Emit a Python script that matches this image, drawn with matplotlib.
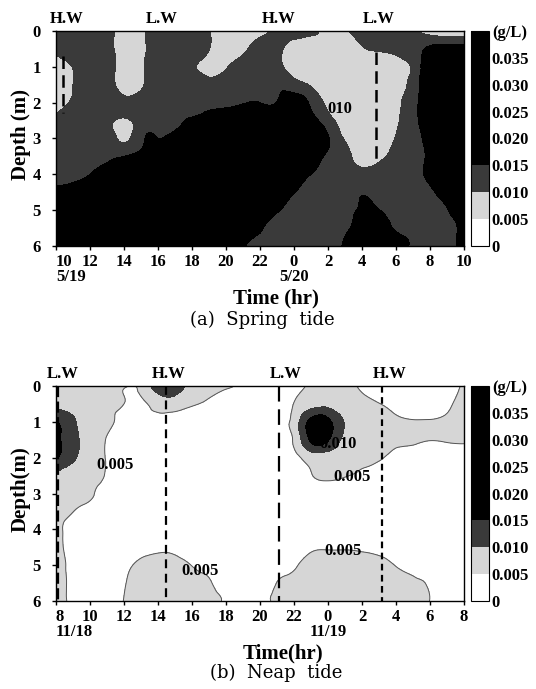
import numpy as np
import matplotlib
matplotlib.use("Agg")
import matplotlib.pyplot as plt
import matplotlib.tri as mtri
from matplotlib.colors import ListedColormap, BoundaryNorm
from matplotlib.transforms import blended_transform_factory

plt.rcParams['font.family'] = ['Liberation Serif', 'DejaVu Serif']
plt.rcParams['font.weight'] = 'bold'

# depth grid (m), shared by both surveys
depths = [0, 0.5, 1.0, 1.5, 2.0, 2.5, 3.0, 3.5, 4.0, 4.5, 5.0, 5.5, 6.0]

# (a) spring tide, hour of day from 10h 5/19 to 10h 5/20 ; SS in g/L x 1000
spring_hours = [10, 11, 12, 13, 14, 15, 16, 17, 18, 19, 20, 21, 22,
                23, 24, 25, 26, 27, 28, 29, 30, 31, 32, 33, 34]
spring_ss = [
    [13, 13, 13, 12, 7, 8, 14, 14, 13, 10.2, 7, 7, 8.5, 11, 12, 12, 8, 9.5, 12, 12, 12, 11, 7.5, 6, 6],
    [11.5, 13, 13, 12, 7, 8, 14, 14, 14, 10.2, 7, 9, 12, 11.5, 8, 7, 7, 7, 9.5, 10.5, 11, 13, 16, 17, 17],
    [7, 10.2, 13, 12.5, 7, 8.5, 14, 14, 11, 8, 9.5, 12, 12, 11.5, 7.5, 7, 7, 7, 7, 7, 8, 11, 19, 21, 21],
    [6.5, 10, 13, 13, 7.5, 9, 14, 14, 14, 12, 13, 14, 14, 14, 12, 9.5, 7, 7, 7, 7, 8.5, 12, 20, 22, 22],
    [7.5, 10.8, 13, 13.5, 11.5, 13, 13.5, 14, 14, 14, 14.3, 14.8, 15, 15.2, 18, 14, 9, 7, 7, 7, 9, 13, 20, 22, 22],
    [11, 12.5, 13, 12, 9, 13, 14, 14.5, 15.2, 16, 17, 18, 19, 19, 19, 17, 12, 8, 7, 7, 9.5, 13, 19, 21, 21],
    [13, 13, 13, 13, 9, 14, 15, 16, 17, 18, 19, 20, 20, 20, 20, 20, 15.5, 9.5, 7, 8, 10.2, 13, 17, 20, 20],
    [13, 13, 13.5, 14, 15, 16, 17, 18, 19, 20, 20, 21, 21, 21, 20, 18, 14, 11.5, 8, 9, 11, 13, 16, 19, 20],
    [13.8, 14.2, 15, 16, 17, 18, 19, 20, 20, 21, 21, 21, 21, 20, 18, 15, 13, 12, 11, 12, 13, 14, 16, 19, 20],
    [15.8, 16.2, 17, 18, 19, 20, 20, 21, 21, 21, 21, 21, 20, 18, 15.2, 13, 13, 13, 14.5, 13, 13, 13, 14.2, 17, 19],
    [17.8, 18, 19, 20, 20, 21, 21, 21, 21, 21, 20, 19, 17, 15.5, 13, 13, 13, 13, 16, 15.2, 13, 13, 13, 14.8, 17],
    [19.8, 20, 20, 21, 21, 21, 21, 21, 21, 20, 19, 17, 15.5, 13, 13, 13, 13.5, 14, 17.5, 17, 14.5, 13, 13, 13.5, 16.5],
    [21, 21, 21, 21, 21, 21, 21, 21, 20, 19, 18, 15.5, 13, 13, 13, 13, 11, 16, 18, 18, 20, 13.5, 13, 13.5, 16.5],
]
spring_ticks = [10, 12, 14, 16, 18, 20, 22, 24, 26, 28, 30, 32, 34]
spring_ticklabels = ['10', '12', '14', '16', '18', '20', '22',
                     '0', '2', '4', '6', '8', '10']
spring_dates = ['5/19', '5/20']
spring_date_t = [10, 24]
spring_tide_t = [10.6, 16.2, 23.1, 29.0]
spring_tide = ['H.W', 'L.W', 'H.W', 'L.W']
spring_line_t = [10.4, 28.8]
spring_line_top = [0.7, 0.6]
spring_line_bot = [2.3, 3.6]
spring_clabels = ['010']
spring_clabel_t = [26.7]
spring_clabel_d = [2.17]

# (b) neap tide, 8h 11/18 to 8h 11/19
neap_hours = [8, 9, 10, 11, 12, 13, 14, 15, 16, 17, 18, 19, 20,
              21, 22, 23, 24, 25, 26, 27, 28, 29, 30, 31, 32]
neap_ss = [
    [7, 7, 6.5, 6, 5.3, 6, 13, 13, 8, 6.5, 5.6, 4.5, 4.3, 3.5, 4, 5.5, 6.5, 6, 4.5, 3, 2.5, 2.5, 2.5, 3.5, 5.5],
    [8, 7, 6.5, 6, 5, 4, 7.5, 7.5, 5.5, 4.2, 3, 3, 3, 3, 5.1, 8, 8.5, 7, 6, 5.1, 4.1, 3.5, 3.5, 4.5, 6],
    [15.5, 11, 6.5, 5.9, 3, 3, 3, 3, 3, 3, 3, 3, 3, 3, 7, 17, 16.5, 9.5, 6.5, 6, 5.5, 5.2, 5.2, 5.4, 6],
    [15.5, 12, 7, 4.8, 3, 3, 3, 3, 3, 3, 3, 3, 3, 3, 5.7, 16, 15.5, 8.5, 6.5, 6.2, 5.8, 5.5, 5.1, 5.3, 5.5],
    [15.5, 11, 7, 4.8, 3, 3, 3, 3, 3, 3, 3, 3, 3, 3, 3.7, 7, 7.5, 6.5, 6, 5.5, 3.8, 3.5, 3, 3, 3],
    [9, 7, 7, 4.5, 3, 3, 3, 3, 3, 3, 3, 3, 3, 3, 3, 4.8, 5.8, 5.2, 4.3, 3, 3, 3, 3, 3, 3],
    [7, 7, 5.9, 3, 3, 3, 3, 3, 3, 3, 3, 3, 3, 3, 3, 3, 3, 3, 3, 3, 3, 3, 3, 3, 3],
    [7, 5.1, 3, 3, 3, 3, 3, 3, 3, 3, 3, 3, 3, 3, 3, 3, 3, 3, 3, 3, 3, 3, 3, 3, 3],
    [7, 3, 3, 3, 3, 3, 3, 3, 3, 3, 3, 3, 3, 3, 3, 3, 3, 3, 3, 3, 3, 3, 3, 3, 3],
    [7, 3.4, 3, 3, 3, 3.8, 4.4, 4.3, 3.5, 3, 3, 3, 3, 3, 3, 4.3, 4.6, 4.6, 4.4, 4, 3.5, 3, 3, 3, 3],
    [7, 3.9, 3, 3, 4, 5.8, 6.2, 6, 4.9, 3.5, 3, 3, 3, 3, 4.36, 6.5, 6.8, 6.8, 6.5, 6, 4.9, 4, 3, 3, 3],
    [7, 4.1, 3, 3, 4.7, 6.5, 7, 7, 6.5, 5.5, 3, 3, 3, 5.1, 6.5, 7, 7, 7, 7, 6.5, 6, 5.5, 4.6, 3, 3],
    [7, 4.1, 3, 3, 5.1, 7, 7.5, 7.5, 7, 6.5, 4.5, 3.5, 3.5, 6, 7, 7.5, 7.5, 7.5, 7.5, 7, 6.5, 6, 4.95, 3, 3],
]
neap_ticks = [8, 10, 12, 14, 16, 18, 20, 22, 24, 26, 28, 30, 32]
neap_ticklabels = ['8', '10', '12', '14', '16', '18', '20', '22',
                   '0', '2', '4', '6', '8']
neap_dates = ['11/18', '11/19']
neap_date_t = [8, 24]
neap_tide_t = [8.4, 14.6, 21.5, 27.6]
neap_tide = ['L.W', 'H.W', 'L.W', 'H.W']
neap_line_t = [8.1, 14.5, 21.1, 27.2]
neap_line_dash = [(5, 2), (4, 2.5), (7, 3.5), (3, 2)]
neap_clabels = ['0.005', '0.005', '0.005', '0.005', '0.010']
neap_clabel_t = [11.45, 16.5, 25.4, 24.9, 24.6]
neap_clabel_d = [2.2, 5.15, 2.55, 4.6, 1.62]

levels = [0, 0.005, 0.010, 0.015, 0.020, 0.025, 0.030, 0.035, 0.040]
level_labels = ['0', '0.005', '0.010', '0.015', '0.020', '0.025', '0.030', '0.035', '(g/L)']
shades = ['white', '#d6d6d6', '#3a3a3a', 'black', 'black', 'black', 'black', 'black']

W, H = 536, 689
fig = plt.figure(figsize=(W / 100, H / 100), dpi=100)


def box(x0, y0, x1, y1):
    return [x0 / W, 1 - y1 / H, (x1 - x0) / W, (y1 - y0) / H]


def panel(top, hours, ss, ticks, ticklabels, dates, date_t, tide_t, tide,
          ylab, xlab, caption, lines_on):
    bottom = top + 215
    ax = fig.add_axes(box(56, top, 464, bottom))
    cax = fig.add_axes(box(471, top, 489, bottom))
    cmap = ListedColormap(shades)
    norm = BoundaryNorm(levels, cmap.N)

    T, D = np.meshgrid(hours, depths)
    z = np.array(ss) / 1000.0
    tri = mtri.Triangulation(T.ravel(), D.ravel())
    tri_f, z_f = mtri.UniformTriRefiner(tri).refine_field(z.ravel(), subdiv=3)
    cs = ax.tricontourf(tri_f, z_f, levels=levels, cmap=cmap, norm=norm)
    if lines_on:
        ax.tricontour(tri_f, z_f, levels=[0.005], colors='#555555', linewidths=0.7)

    ax.set_xlim(hours[0], hours[-1])
    ax.set_ylim(6, 0)
    ax.set_yticks([0, 1, 2, 3, 4, 5, 6])
    ax.set_xticks(ticks)
    ax.set_xticklabels(ticklabels)
    ax.get_xticklabels()[0].set_horizontalalignment('left')
    ax.tick_params(direction='out', length=3, width=1, labelsize=12, pad=3)
    ax.tick_params(axis='y', pad=8)
    for s in ax.spines.values():
        s.set_linewidth(1.0)

    trans = blended_transform_factory(ax.transData, ax.transAxes)
    for t, name in zip(tide_t, tide):
        ax.text(t, 1.02, name, transform=trans, ha='center', va='bottom',
                fontsize=12, fontweight='bold')
    for i, (t, name) in enumerate(zip(date_t, dates)):
        ax.text(t, -23 / 215, name, transform=trans, ha='left' if i == 0 else 'center',
                va='top', fontsize=12, fontweight='bold')

    cb = fig.colorbar(cs, cax=cax)
    cb.set_ticks(levels, labels=level_labels)
    cb.ax.tick_params(length=0, labelsize=12, pad=2)
    cb.outline.set_linewidth(0.8)

    fig.text(21 / W, 1 - (top + 103) / H, ylab, rotation=90, ha='center', va='center',
             fontsize=15, fontweight='bold')
    fig.text(xlab[1] / W, 1 - (bottom + 52) / H, xlab[0], ha='center', va='center',
             fontsize=15, fontweight='bold')
    fig.text(caption[1] / W, 1 - (bottom + caption[2]) / H, caption[0], ha='center',
             va='center', fontsize=13, fontweight='normal', family='DejaVu Serif')
    return ax


ax1 = panel(31, spring_hours, spring_ss, spring_ticks, spring_ticklabels,
            spring_dates, spring_date_t, spring_tide_t, spring_tide,
            'Depth (m)', ('Time (hr)', 276), ('(a)  Spring  tide', 262, 74), False)
for t, d0, d1 in zip(spring_line_t, spring_line_top, spring_line_bot):
    ax1.plot([t, t], [d0, d1], color='black', lw=1.8, dashes=(5, 2.5))
for s, t, d in zip(spring_clabels, spring_clabel_t, spring_clabel_d):
    ax1.text(t, d, s, ha='center', va='center', fontsize=12, fontweight='bold')

ax2 = panel(386, neap_hours, neap_ss, neap_ticks, neap_ticklabels,
            neap_dates, neap_date_t, neap_tide_t, neap_tide,
            'Depth(m)', ('Time(hr)', 283), ('(b)  Neap  tide', 276, 72), True)
for t, dsh in zip(neap_line_t, neap_line_dash):
    ax2.plot([t, t], [0, 6], color='black', lw=1.6, dashes=dsh)
for s, t, d in zip(neap_clabels, neap_clabel_t, neap_clabel_d):
    ax2.text(t, d, s, ha='center', va='center', fontsize=12, fontweight='bold')

fig.savefig('out.png', dpi=100)
